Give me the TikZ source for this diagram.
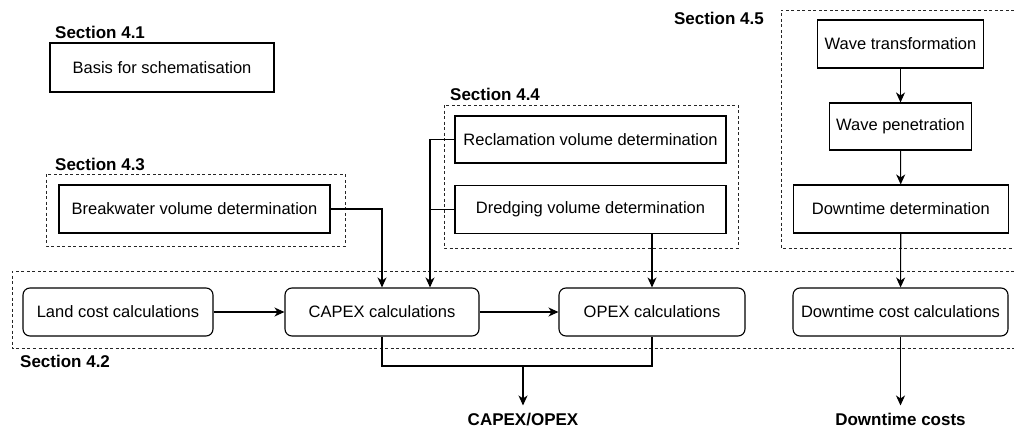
\documentclass[tikz,border=0pt]{standalone}
\usepackage{fontspec}
\setmainfont{Liberation Sans}
\usetikzlibrary{arrows.meta}

\begin{document}
\begin{tikzpicture}[x=1pt,y=-1pt,
  box/.style={draw=black, line width=1.1pt, minimum height=48pt, inner sep=0pt,
              font=\fontsize{16.5}{20}\selectfont, fill=white},
  rbox/.style={box, rounded corners=7pt},
  sect/.style={font=\bfseries\fontsize{17}{20}\selectfont, inner sep=0pt, anchor=base west},
  outlbl/.style={font=\bfseries\fontsize{17}{20}\selectfont, inner sep=0pt, anchor=base},
  group/.style={draw=black!85, line width=0.9pt, dash pattern=on 3pt off 2.5pt},
  conn/.style={draw=black, line width=1.1pt},
  arr/.style={conn, -{Stealth[length=10pt,width=9pt,inset=3pt]}}
]
\useasboundingbox (0,0) rectangle (1014,428);

% dashed section frames
\draw[group] (46,174) rectangle (345,246);
\draw[group] (444,105) rectangle (738,248);
\draw[group] (1014,10) -- (781,10) -- (781,248) -- (1014,248);
\draw[group] (1014,271) -- (12,271) -- (12,348) -- (1014,348);

% section labels
\node[sect] (s41) at (55,38.5) {Section 4.1};
\node[sect] (s43) at (55,170) {Section 4.3};
\node[sect] (s44) at (450,100) {Section 4.4};
\node[sect, anchor=base east] (s45) at (764,25) {Section 4.5};
\node[sect] (s42) at (20,367) {Section 4.2};

% input steps
\node[box, minimum width=224pt, minimum height=49pt] (basis) at (162,67.5) {Basis for schematisation};
\node[box, minimum width=271pt] (brk) at (194.5,209) {Breakwater volume determination};
\node[box, minimum width=271pt, minimum height=47pt] (recl) at (590.5,139.5) {Reclamation volume determination};
\node[box, minimum width=271pt] (dredge) at (590.5,209.5) {Dredging volume determination};
\node[box, minimum width=166pt] (wtrans) at (900.5,44) {Wave transformation};
\node[box, minimum width=142pt, minimum height=47pt] (wpen) at (900.5,126.5) {Wave penetration};
\node[box, minimum width=215pt] (ddet) at (900.8,209) {Downtime determination};

% cost calculations
\node[rbox, minimum width=190pt] (land) at (118,312) {Land cost calculations};
\node[rbox, minimum width=194pt] (capex) at (382,312) {CAPEX calculations};
\node[rbox, minimum width=186pt] (opex) at (652,312) {OPEX calculations};
\node[rbox, minimum width=215pt] (dcost) at (900.5,312) {Downtime cost calculations};

% outputs
\node[outlbl] (co) at (523,425) {CAPEX/OPEX};
\node[outlbl] (dc) at (900.5,425) {Downtime costs};

% helper points
\coordinate (bus) at (430,0);
\coordinate (join) at (523,366);

% connectors
\draw[arr] (brk.east) -| (capex.north);
\draw[arr] (recl.west) -| (bus |- capex.north);
\draw[conn] (dredge.west) -- (bus |- dredge.west);
\draw[arr] (dredge.south -| opex.north) -- (opex.north);
\draw[arr] (land.east) -- (capex.west);
\draw[arr] (capex.east) -- (opex.west);
\draw[arr] (wtrans) -- (wpen);
\draw[arr] (wpen) -- (ddet);
\draw[arr] (ddet) -- (dcost);
\draw[conn] (capex.south) -- (capex.south |- join) -- (opex.south |- join) -- (opex.south);
\draw[arr, shorten >=7pt] (join) -- (co.north);
\draw[arr, shorten >=7pt] (dcost.south) -- (dc.north);
\end{tikzpicture}
\end{document}
